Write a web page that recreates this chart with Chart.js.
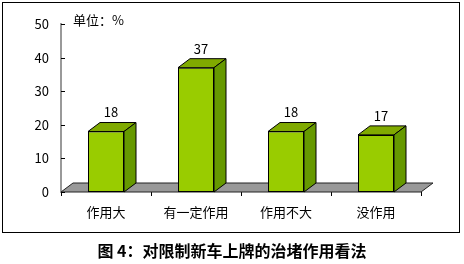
<!DOCTYPE html>
<html>
<head>
<meta charset="utf-8">
<script src="https://cdn.jsdelivr.net/npm/chart.js@4.4.0/dist/chart.umd.min.js"></script>
<style>
  body { margin: 0; background: #fff; }
  #wrap { position: relative; width: 464px; height: 264px; }
  #frame { position: absolute; left: 2px; top: 2px; width: 456px; height: 229px; border: 1.5px solid #000; }
  #myChart { position: absolute; left: 0; top: 0; }
  .txt { position: absolute; font-family: "Noto Sans CJK SC", sans-serif; color: #000; white-space: nowrap; }
  #unit { left: 73px; top: 10px; font-size: 13px; }
  #title { left: 0; width: 464px; top: 238px; text-align: center; font-size: 16px; font-weight: bold; }
</style>
</head>
<body>
<div id="wrap">
  <div id="frame"></div>
  <canvas id="myChart" width="464" height="264"></canvas>
  <div id="unit" class="txt">单位：%</div>
  <div id="title" class="txt">图 4：对限制新车上牌的治堵作用看法</div>
</div>
<script>
let categories = ["作用大", "有一定作用", "作用不大", "没作用"];
let values = [18, 37, 18, 17];
let yTicks = [0, 10, 20, 30, 40, 50];

// depth of the fake 3d look
let dx = 12;
let dy = 9;

const threeD = {
  id: "threeD",
  beforeDatasetsDraw(chart) {
    // gray floor
    const ctx = chart.ctx;
    const x = chart.scales.x;
    const y0 = chart.scales.y.getPixelForValue(0);
    ctx.save();
    ctx.beginPath();
    ctx.moveTo(x.left, y0);
    ctx.lineTo(x.left + dx, y0 - dy);
    ctx.lineTo(x.right + dx, y0 - dy);
    ctx.lineTo(x.right, y0);
    ctx.closePath();
    ctx.fillStyle = "#999999";
    ctx.fill();
    ctx.strokeStyle = "#222";
    ctx.lineWidth = 1;
    ctx.stroke();

    // small inward ticks on the y axis
    const ys = chart.scales.y;
    ctx.strokeStyle = "#000";
    ys.ticks.forEach((t) => {
      const py = Math.round(ys.getPixelForValue(t.value)) + 0.5;
      ctx.beginPath();
      ctx.moveTo(ys.right, py);
      ctx.lineTo(ys.right + 4, py);
      ctx.stroke();
    });
    ctx.restore();
  },
  afterDatasetsDraw(chart) {
    const ctx = chart.ctx;
    const meta = chart.getDatasetMeta(0);
    ctx.save();
    ctx.strokeStyle = "#000";
    ctx.lineWidth = 1;
    meta.data.forEach((bar, i) => {
      const l = bar.x - bar.width / 2;
      const r = bar.x + bar.width / 2;
      const top = bar.y;
      const base = bar.base;
      // top face
      ctx.beginPath();
      ctx.moveTo(l, top);
      ctx.lineTo(l + dx, top - dy);
      ctx.lineTo(r + dx, top - dy);
      ctx.lineTo(r, top);
      ctx.closePath();
      ctx.fillStyle = "#80AA00";
      ctx.fill();
      ctx.stroke();
      // side face
      ctx.beginPath();
      ctx.moveTo(r, top);
      ctx.lineTo(r + dx, top - dy);
      ctx.lineTo(r + dx, base - dy);
      ctx.lineTo(r, base);
      ctx.closePath();
      ctx.fillStyle = "#669900";
      ctx.fill();
      ctx.stroke();
      // value label
      ctx.fillStyle = "#000";
      ctx.font = '13px "Noto Sans CJK SC", sans-serif';
      ctx.textAlign = "center";
      ctx.textBaseline = "middle";
      ctx.fillText(values[i], bar.x + dx / 2 - 1, top - dy - 10);
    });
    ctx.restore();
  },
};

const ctx = document.getElementById("myChart").getContext("2d");
const myChart = new Chart(ctx, {
  type: "bar",
  data: {
    labels: categories,
    datasets: [
      {
        data: values,
        backgroundColor: "#99CC00",
        borderColor: "#000",
        borderWidth: 1,
        borderSkipped: false,
        categoryPercentage: 1,
        barPercentage: 0.4,
      },
    ],
  },
  options: {
    responsive: false,
    animation: false,
    layout: { padding: { left: 0, right: 43, top: 24, bottom: 0 } },
    plugins: {
      legend: { display: false },
      tooltip: { enabled: false },
    },
    scales: {
      x: {
        grid: { display: true, drawOnChartArea: false, tickLength: 4, color: "#000", offset: true },
        border: { display: false },
        ticks: {
          padding: 8,
          color: "#000",
          font: { family: '"Noto Sans CJK SC", sans-serif', size: 13 },
        },
        afterFit: (s) => { s.height = 72; },
      },
      y: {
        min: 0,
        max: 50,
        afterBuildTicks: (s) => { s.ticks = yTicks.map((v) => ({ value: v })); },
        grid: { display: false, drawTicks: false },
        border: { display: true, color: "#999", width: 2 },
        ticks: {
          padding: 12,
          color: "#000",
          font: { family: '"Noto Sans CJK SC", sans-serif', size: 13 },
        },
        afterFit: (s) => { s.width = 61; },
      },
    },
  },
  plugins: [threeD],
});
</script>
</body>
</html>
